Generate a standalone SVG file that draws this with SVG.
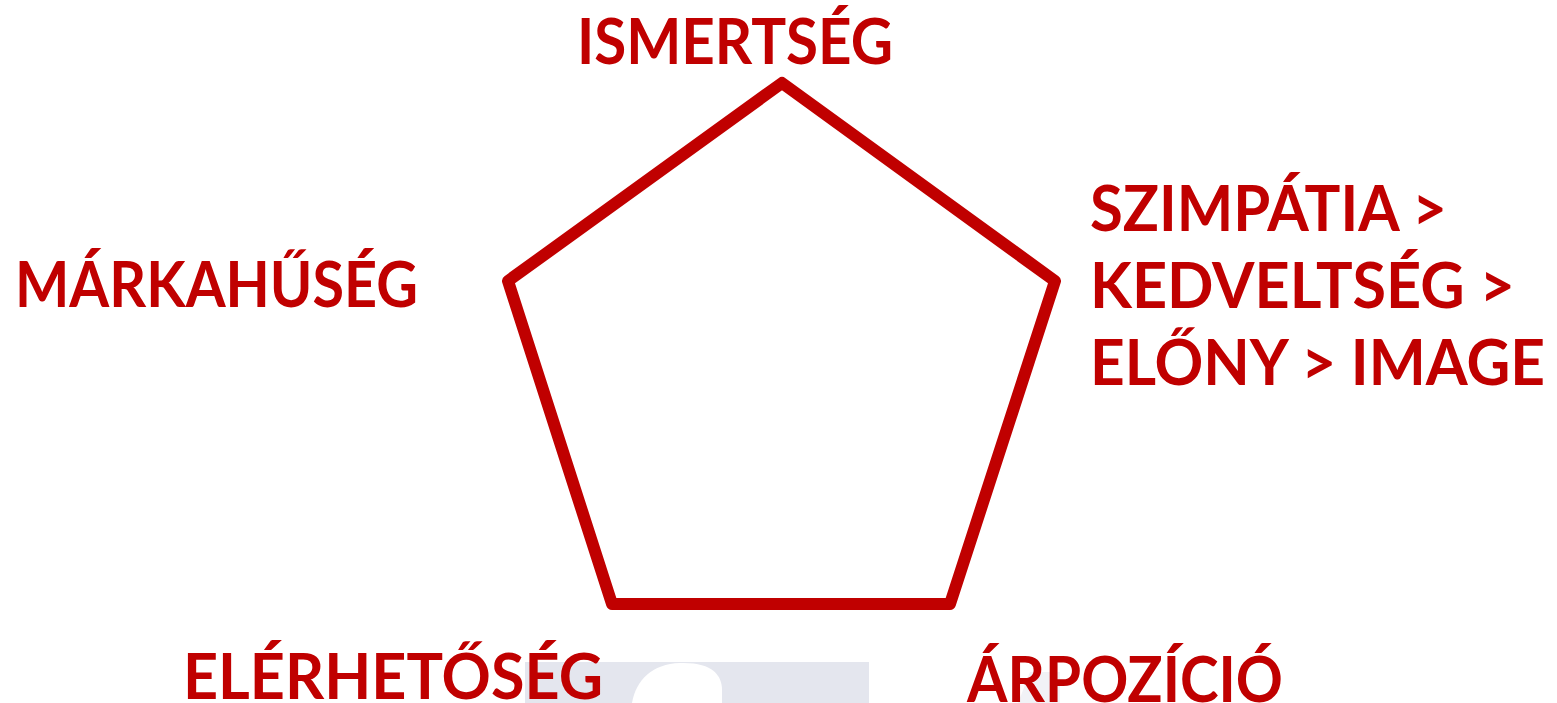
<svg xmlns="http://www.w3.org/2000/svg" width="1557" height="703" viewBox="0 0 1557 703">
  <style>
    .lbl { font-family: Lato, "Liberation Sans", "DejaVu Sans", sans-serif; font-weight: bold; font-size: 64px; fill: #c00000; }
    .edge { fill: none; stroke: #c00000; stroke-width: 12; stroke-linejoin: round; }
  </style>
  <rect width="1557" height="703" fill="#ffffff"/>
  <g id="background">
    <rect x="525" y="662" width="344" height="41" fill="#e4e6ee"/>
    <path d="M 632 703 C 636 680 652 664 680 663 C 712 662 722 675 722 690 L 722 703 Z" fill="#ffffff"/>
    <polygon points="1018,703 1030,672 1060,672 1060,703" fill="#f1f2f6"/>
  </g>
  <g id="connectors">
    <polygon class="edge" points="782,83 1055,281 950,604 612,604 508,281"/>
  </g>
  <g id="node-ismertseg">
    <text class="lbl" x="577" y="64" textLength="316" lengthAdjust="spacingAndGlyphs">ISMERTSÉG</text>
  </g>
  <g id="node-markahuseg">
    <text class="lbl" x="15" y="307" textLength="403" lengthAdjust="spacingAndGlyphs">MÁRKAHŰSÉG</text>
  </g>
  <g id="node-szimpatia">
    <text class="lbl" x="1090" y="231" textLength="357" lengthAdjust="spacingAndGlyphs">SZIMPÁTIA &gt;</text>
    <text class="lbl" x="1090" y="308" textLength="425" lengthAdjust="spacingAndGlyphs">KEDVELTSÉG &gt;</text>
    <text class="lbl" x="1090" y="385" textLength="455" lengthAdjust="spacingAndGlyphs">ELŐNY &gt; IMAGE</text>
  </g>
  <g id="node-elerhetoseg">
    <text class="lbl" x="183" y="699" textLength="420" lengthAdjust="spacingAndGlyphs">ELÉRHETŐSÉG</text>
  </g>
  <g id="node-arpozicio">
    <text class="lbl" x="967" y="702" textLength="316" lengthAdjust="spacingAndGlyphs">ÁRPOZÍCIÓ</text>
  </g>
</svg>
